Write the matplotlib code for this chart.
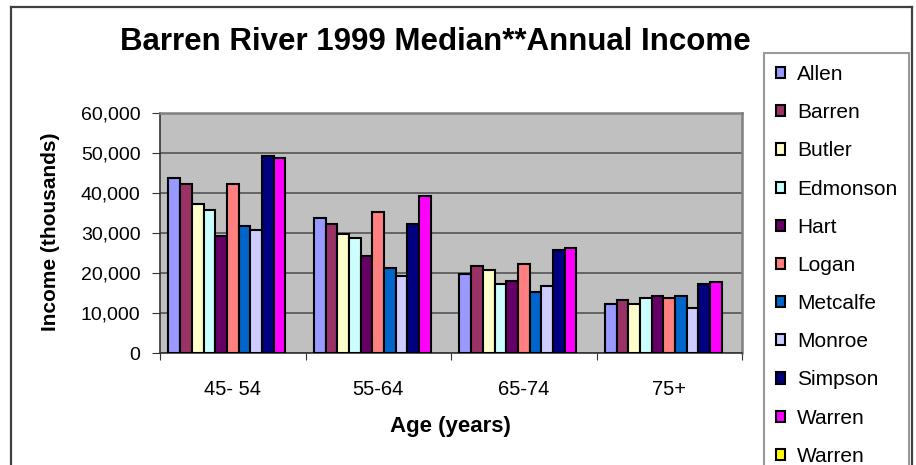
import matplotlib
matplotlib.use("Agg")
import matplotlib.pyplot as plt
import numpy as np
from matplotlib.lines import Line2D

plt.rcParams['font.family'] = ['Liberation Sans', 'DejaVu Sans']

# age groups and county median incomes
ages = ['45- 54', '55-64', '65-74', '75+']
counties = ['Allen', 'Barren', 'Butler', 'Edmonson', 'Hart', 'Logan',
            'Metcalfe', 'Monroe', 'Simpson', 'Warren', 'Warren']
allen = [43800, 33900, 19900, 12300]
barren = [42400, 32400, 21900, 13400]
butler = [37300, 29800, 20800, 12300]
edmonson = [35800, 28800, 17400, 13900]
hart = [29400, 24300, 18000, 14300]
logan = [42400, 35300, 22400, 13900]
metcalfe = [31800, 21300, 15300, 14300]
monroe = [30800, 19300, 16900, 11400]
simpson = [49300, 32400, 25800, 17300]
warren = [48800, 39300, 26300, 17800]
warren2 = [np.nan, np.nan, np.nan, np.nan]  # listed in legend, no bars
series = [allen, barren, butler, edmonson, hart, logan,
          metcalfe, monroe, simpson, warren, warren2]
colors = ['#9999FF', '#993366', '#FFFFCC', '#CCFFFF', '#660066', '#FF8080',
          '#0066CC', '#CCCCFF', '#000080', '#FF00FF', '#FFFF00']

W, H = 916, 465
fig = plt.figure(figsize=(W / 100, H / 100), dpi=100)
ax = fig.add_axes([160 / W, 1 - 353.3 / H, 582 / W, 240 / H])
ax.set_facecolor('#C0C0C0')

x = np.arange(len(ages))
bw = 0.0804
n = len(series)
for j, (vals, c, lab) in enumerate(zip(series, colors, counties)):
    ax.bar(x + (j - (n - 1) / 2) * bw, vals, bw, color=c, edgecolor='black',
           linewidth=1.5, label=lab, zorder=3)

ax.set_xlim(-0.5, 3.5)
ax.set_ylim(0, 60000)
ax.set_yticks(np.arange(0, 60001, 10000))
ax.set_yticklabels(['{:,}'.format(v) for v in range(0, 60001, 10000)])
ax.yaxis.grid(True, color='#555555', linewidth=1.2, zorder=1)
ax.set_axisbelow(True)

ax.set_xticks(np.arange(-0.5, 3.6, 1.0))
ax.set_xticklabels([])
ax.set_xticks(x, minor=True)
ax.set_xticklabels(ages, minor=True)
ax.tick_params(axis='x', which='minor', length=0, pad=19, labelsize=14.5)
ax.tick_params(axis='x', which='major', length=5, direction='out', color='#333333')
ax.tick_params(axis='y', length=6, direction='out', pad=8, labelsize=14, color='#333333')

for s in ['left', 'bottom']:
    ax.spines[s].set_color('#333333')
    ax.spines[s].set_linewidth(1.2)
for s in ['top', 'right']:
    ax.spines[s].set_color('#808080')
    ax.spines[s].set_linewidth(1.8)

fig.text(435 / W, 1 - 42 / H, 'Barren River 1999 Median**Annual Income',
         ha='center', va='center', fontsize=22.5, fontweight='bold')
fig.text(51 / W, 1 - 232 / H, 'Income (thousands)', rotation=90,
         ha='center', va='center', fontsize=15, fontweight='bold')
fig.text(450 / W, 1 - 426 / H, 'Age (years)',
         ha='center', va='center', fontsize=16, fontweight='bold')

leg = fig.legend(loc='upper left', bbox_to_anchor=(764 / W, 1 - 53 / H),
                 borderaxespad=0, fontsize=15, frameon=True, fancybox=False,
                 handlelength=0.45, handleheight=0.45, handletextpad=0.55,
                 labelspacing=0.92, borderpad=0.58)
leg.get_frame().set_edgecolor('#808080')
leg.get_frame().set_linewidth(1.5)

# outer chart border (bottom edge falls outside the image)
fig.add_artist(Line2D([11 / W, 11 / W], [0, 1 - 7 / H], color='#404040', linewidth=1.6))
fig.add_artist(Line2D([11 / W, 912 / W], [1 - 7 / H, 1 - 7 / H], color='#404040', linewidth=1.6))
fig.add_artist(Line2D([912 / W, 912 / W], [0, 1 - 7 / H], color='#404040', linewidth=1.6))

fig.savefig('out.png', dpi=100)
